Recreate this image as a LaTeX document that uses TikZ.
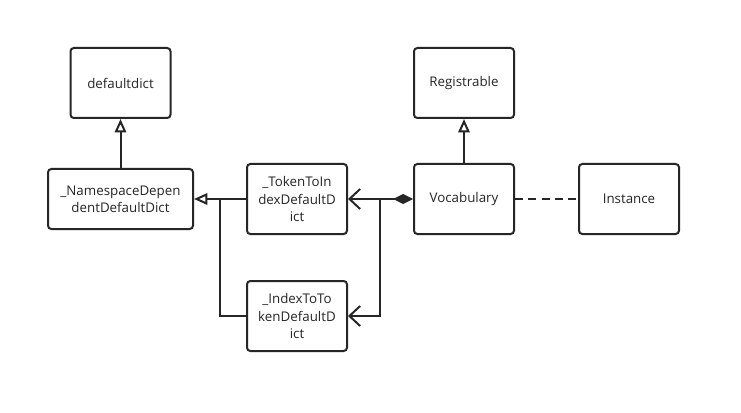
\documentclass[tikz,border=0pt]{standalone}
\usepackage{fontspec}
\setmainfont{Open Sans}
\usetikzlibrary{arrows.meta}
\tikzset{
  cls/.style={draw=black!85, line width=1.5pt, rounded corners=2.5pt, fill=white,
    minimum width=75pt, minimum height=52.5pt, align=center, inner sep=2pt,
    font=\fontsize{10}{12.8}\selectfont, text=black!85},
  conn/.style={draw=black!85, line width=1.5pt},
  inh/.style={conn, -{Triangle[open, length=10pt, width=8.5pt]}},
  nav/.style={-{Straight Barb[length=8pt, width=15pt, line width=1.5pt]}},
  compnav/.style={{Diamond[length=15pt, width=7.5pt]}-{Straight Barb[length=8pt, width=15pt, line width=1.5pt]}}
}
\begin{document}
\begin{tikzpicture}[x=0.75pt, y=-0.75pt]
\useasboundingbox[fill=white] (0,0) rectangle (741,413);
\node[cls] (dd) at (120.5,83) {defaultdict};
\node[cls, minimum width=108.75pt, minimum height=45pt] (ns) at (120.5,199) {\_NamespaceDepen\\dentDefaultDict};
\node[cls] (tok) at (297,199) {\_TokenToIn\\dexDefaultD\\ict};
\node[cls] (idx) at (297,316) {\_IndexToTo\\kenDefaultD\\ict};
\node[cls] (voc) at (464,199) {Vocabulary};
\node[cls] (reg) at (464,83) {Registrable};
\node[cls] (ins) at (629,199) {Instance};
\coordinate (j1) at (220,199);
\coordinate (j2) at (380,199);
\draw[inh] (ns.north) -- (dd.south);
\draw[inh] (tok.west) -- (ns.east);
\draw[conn] (idx.west) -| (j1);
\draw[conn, compnav] (voc.west) -- (tok.east);
\draw[conn, nav] (j2) |- (idx.east);
\draw[inh] (voc.north) -- (reg.south);
\draw[conn, dash pattern=on 6pt off 4pt] (voc.east) -- (ins.west);
\end{tikzpicture}
\end{document}
